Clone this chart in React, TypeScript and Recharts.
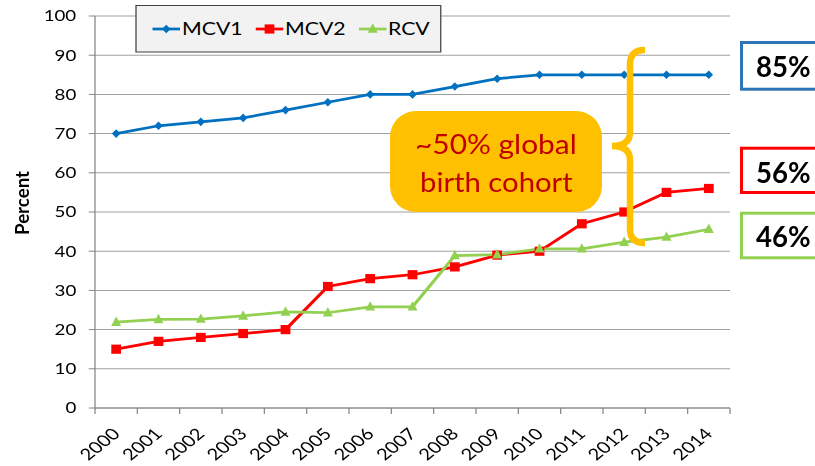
import React from 'react';
import { LineChart, Line, XAxis, YAxis, CartesianGrid } from 'recharts';

const YEARS = ['2000', '2001', '2002', '2003', '2004', '2005', '2006', '2007', '2008', '2009', '2010', '2011', '2012', '2013', '2014'];
const MCV1 = [70, 72, 73, 74, 76, 78, 80, 80, 82, 84, 85, 85, 85, 85, 85];
const MCV2 = [15, 17, 18, 19, 20, 31, 33, 34, 36, 39, 40, 47, 50, 55, 56];
const RCV = [21.9, 22.6, 22.7, 23.5, 24.5, 24.3, 25.8, 25.8, 38.9, 39.1, 40.6, 40.6, 42.3, 43.6, 45.6];
const Y_TICKS = [0, 10, 20, 30, 40, 50, 60, 70, 80, 90, 100];
const SERIES_NAMES = ['MCV1', 'MCV2', 'RCV'];
const SERIES_COLORS = ['#0070C0', '#FF0000', '#92D050'];
const SERIES_MARKERS = ['diamond', 'square', 'triangle'];
const CALLOUT_COLORS = ['#2E75B6', '#FF0000', '#92D050'];
const ANNOTATION_LINES = ['~50% global', 'birth cohort'];
const Y_LABEL = 'Percent';

const SERIES_VALUES = [MCV1, MCV2, RCV];
const data = YEARS.map((year, i) => ({ year, MCV1: MCV1[i], MCV2: MCV2[i], RCV: RCV[i] }));

const S = 1.25;
const CW = 815 / S;
const CH = 466;
const FONT = "Lato, 'Open Sans', sans-serif";
const AXIS_GRAY = '#868686';

function Marker({ kind, cx, cy, color }: { kind: string; cx: number; cy: number; color: string }) {
  if (cx == null || cy == null) return null;
  if (kind === 'diamond') {
    const hw = 3.4, hh = 4.3;
    return <path d={`M${cx},${cy - hh}L${cx + hw},${cy}L${cx},${cy + hh}L${cx - hw},${cy}Z`} fill={color} />;
  }
  if (kind === 'square') {
    const hw = 3.9, hh = 4.6;
    return <rect x={cx - hw} y={cy - hh} width={hw * 2} height={hh * 2} fill={color} />;
  }
  const hw = 4.0, h = 9.4;
  return <path d={`M${cx},${cy - h * 0.6}L${cx + hw},${cy + h * 0.4}L${cx - hw},${cy + h * 0.4}Z`} fill={color} />;
}

const makeDot = (kind: string, color: string) => (props: any) => (
  <Marker key={`d-${kind}-${props.index}`} kind={kind} cx={props.cx} cy={props.cy} color={color} />
);

function XTick(props: any) {
  const { x, y, payload, index } = props;
  const half = payload && payload.offset ? payload.offset : (584 - 76) / YEARS.length / 2;
  const axisY = y - 8;
  const tx = x + 4;
  const ty = y + 19;
  return (
    <g>
      <line x1={x - half} y1={axisY} x2={x - half} y2={axisY + 6} stroke={AXIS_GRAY} />
      {index === YEARS.length - 1 && <line x1={x + half} y1={axisY} x2={x + half} y2={axisY + 6} stroke={AXIS_GRAY} />}
      <text x={tx} y={ty} transform={`rotate(-45 ${tx} ${ty})`} textAnchor="end" fontSize={16} fontFamily={FONT} fill="#000">
        {payload.value}
      </text>
    </g>
  );
}

function Legend() {
  const items = [
    { lx: 122, tx: 145.6 },
    { lx: 204.6, tx: 228 },
    { lx: 287.2, tx: 310.4 },
  ];
  return (
    <svg width={CW} height={CH} style={{ position: 'absolute', left: 0, top: 0, pointerEvents: 'none' }}>
      <rect x={108.8} y={5.5} width={243.8} height={46.5} fill="#F2F2F2" stroke="#404040" strokeWidth={1} />
      {SERIES_NAMES.map((name, i) => (
        <g key={name}>
          <line x1={items[i].lx} y1={29} x2={items[i].lx + 22} y2={29} stroke={SERIES_COLORS[i]} strokeWidth={2.75} />
          <Marker kind={SERIES_MARKERS[i]} cx={items[i].lx + 11} cy={29} color={SERIES_COLORS[i]} />
          <text x={items[i].tx} y={35} fontSize={17} fontFamily={FONT} fill="#000">{name}</text>
        </g>
      ))}
    </svg>
  );
}

function Overlay() {
  const last = YEARS.length - 1;
  const boxes = [
    { y: 42.5, h: 46.7, base: 76.7 },
    { y: 148.2, h: 44.3, base: 183.3 },
    { y: 213.2, h: 44.6, base: 247.3 },
  ];
  return (
    <svg width={815} height={466} style={{ position: 'absolute', left: 0, top: 0, pointerEvents: 'none' }}>
      <text
        x={29}
        y={203}
        transform="rotate(-90 29 203)"
        textAnchor="middle"
        fontSize={18.5}
        fontWeight="bold"
        fontFamily={FONT}
        fill="#000"
        textLength={64}
        lengthAdjust="spacingAndGlyphs"
      >
        {Y_LABEL}
      </text>
      <rect x={390} y={111} width={212} height={101} rx={26} ry={26} fill="#FFC000" />
      <text x={415} y={154.3} fontSize={26} fontFamily={FONT} fill="#C00000" textLength={161.7} lengthAdjust="spacingAndGlyphs">
        {ANNOTATION_LINES[0]}
      </text>
      <text x={420} y={191.7} fontSize={26} fontFamily={FONT} fill="#C00000" textLength={152.7} lengthAdjust="spacingAndGlyphs">
        {ANNOTATION_LINES[1]}
      </text>
      <path
        d="M645,50 Q630,50 630,64 L630,132 Q630,146 612,146 Q630,146 630,160 L630,229 Q630,243 645,243"
        fill="none"
        stroke="#FFC000"
        strokeWidth={6.5}
      />
      {boxes.map((b, i) => (
        <g key={i}>
          <rect x={741.5} y={b.y} width={100} height={b.h} fill="#fff" stroke={CALLOUT_COLORS[i]} strokeWidth={3} />
          <text x={756} y={b.base} fontSize={27.6} fontWeight="bold" fontFamily={FONT} fill="#000">
            {`${Math.round(SERIES_VALUES[i][last])}%`}
          </text>
        </g>
      ))}
    </svg>
  );
}

export default function App() {
  return (
    <div style={{ position: 'absolute', left: 0, top: 0, width: 815, height: 466, overflow: 'hidden', background: '#fff' }}>
      <div style={{ position: 'absolute', left: 0, top: 0, width: CW, height: CH, transform: `scaleX(${S})`, transformOrigin: '0 0' }}>
        <LineChart width={CW} height={CH} data={data} margin={{ top: 16, right: 68, bottom: 0, left: 0 }}>
          <CartesianGrid vertical={false} stroke="#A0A0A0" />
          <XAxis
            dataKey="year"
            scale="band"
            interval={0}
            tickLine={false}
            tickSize={6}
            tickMargin={2}
            height={58}
            axisLine={{ stroke: AXIS_GRAY }}
            tick={<XTick />}
          />
          <YAxis
            domain={[0, 100]}
            ticks={Y_TICKS}
            interval={0}
            width={76}
            tickSize={5}
            tickMargin={10}
            axisLine={{ stroke: AXIS_GRAY }}
            tickLine={{ stroke: AXIS_GRAY }}
            tick={{ fontSize: 15, fill: '#000', fontFamily: FONT }}
          />
          {SERIES_NAMES.map((name, i) => (
            <Line
              key={name}
              dataKey={name}
              name={name}
              stroke={SERIES_COLORS[i]}
              strokeWidth={2.75}
              dot={makeDot(SERIES_MARKERS[i], SERIES_COLORS[i])}
              activeDot={false}
              isAnimationActive={false}
            />
          ))}
        </LineChart>
        <Legend />
      </div>
      <Overlay />
    </div>
  );
}
